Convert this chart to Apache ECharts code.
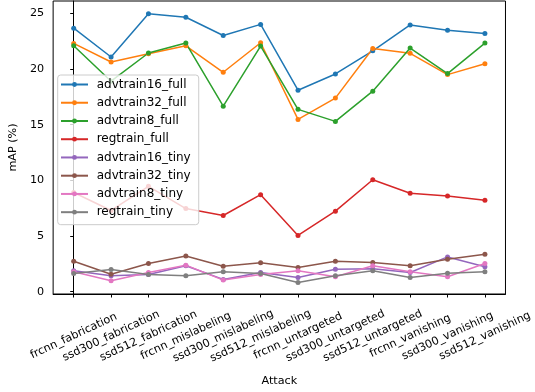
<!DOCTYPE html>
<html>
<head>
<meta charset="utf-8">
<script src="https://cdn.jsdelivr.net/npm/echarts@6/dist/echarts.min.js"></script>
<style>
  html, body { margin: 0; padding: 0; background: #fff; }
  #chart { width: 535px; height: 392px; }
</style>
</head>
<body>
<div id="chart"></div>
<script>
// Attack scenarios along the x axis
const attacks = [
  'frcnn_fabrication', 'ssd300_fabrication', 'ssd512_fabrication',
  'frcnn_mislabeling', 'ssd300_mislabeling', 'ssd512_mislabeling',
  'frcnn_untargeted', 'ssd300_untargeted', 'ssd512_untargeted',
  'frcnn_vanishing', 'ssd300_vanishing', 'ssd512_vanishing'
];

// mAP (%) per training setup
const advtrain16_full = [23.66, 21.07, 24.96, 24.64, 23.0, 24.0, 18.09, 19.55, 21.63, 23.95, 23.48, 23.18];
const advtrain32_full = [22.29, 20.62, 21.37, 22.08, 19.7, 22.35, 15.47, 17.38, 21.84, 21.4, 19.49, 20.47];
const advtrain8_full  = [22.08, 18.9, 21.43, 22.32, 16.66, 22.05, 16.37, 15.29, 18.0, 21.87, 19.58, 22.32];
const regtrain_full   = [8.9, 7.29, 9.46, 7.46, 6.84, 8.71, 5.05, 7.23, 10.05, 8.84, 8.6, 8.21];
const advtrain16_tiny = [1.87, 1.43, 1.54, 2.32, 1.1, 1.72, 1.28, 2.02, 2.05, 1.72, 3.12, 2.23];
const advtrain32_tiny = [2.73, 1.57, 2.53, 3.21, 2.29, 2.59, 2.17, 2.73, 2.62, 2.32, 2.91, 3.36];
const advtrain8_tiny  = [1.78, 0.98, 1.72, 2.38, 1.04, 1.54, 1.87, 1.34, 2.32, 1.78, 1.34, 2.53];
const regtrain_tiny   = [1.63, 1.99, 1.54, 1.43, 1.78, 1.63, 0.83, 1.43, 1.87, 1.28, 1.66, 1.78];

const yTicks = [0, 5, 10, 15, 20, 25];

const seriesDefs = [
  ['advtrain16_full', advtrain16_full, '#1f77b4'],
  ['advtrain32_full', advtrain32_full, '#ff7f0e'],
  ['advtrain8_full',  advtrain8_full,  '#2ca02c'],
  ['regtrain_full',   regtrain_full,   '#d62728'],
  ['advtrain16_tiny', advtrain16_tiny, '#9467bd'],
  ['advtrain32_tiny', advtrain32_tiny, '#8c564b'],
  ['advtrain8_tiny',  advtrain8_tiny,  '#e377c2'],
  ['regtrain_tiny',   regtrain_tiny,   '#7f7f7f']
];

const font = 'DejaVu Sans';
const fs = 11.2;
const chart = echarts.init(document.getElementById('chart'), null, { renderer: 'canvas' });

chart.setOption({
  animation: false,
  backgroundColor: '#fff',
  textStyle: { fontFamily: font },
  grid: {
    left: 51, right: 26.5, top: 1, bottom: 96.3,
    show: true, borderColor: '#000', borderWidth: 1, backgroundColor: 'transparent'
  },
  legend: {
    orient: 'vertical',
    left: 57.7, top: 75,
    padding: [3, 8, 6, 2.3],
    itemWidth: 27, itemHeight: 6, itemGap: 5.24,
    backgroundColor: 'rgba(255,255,255,0.8)',
    borderColor: '#cccccc', borderWidth: 1, borderRadius: 3,
    textStyle: { fontFamily: font, fontSize: 12, color: '#000', lineHeight: 13, padding: [0, 0, 0, 3.7] },
    data: seriesDefs.map(d => d[0])
  },
  xAxis: {
    type: 'value',
    min: -0.55, max: attacks.length - 1 + 0.55,
    name: 'Attack', nameLocation: 'middle', nameGap: 82,
    nameTextStyle: { fontFamily: font, fontSize: fs, color: '#000' },
    axisLine: { show: true, onZero: false, lineStyle: { color: '#000', width: 1 } },
    axisTick: { show: true, length: 3.5, lineStyle: { color: '#000' }, customValues: attacks.map((_, i) => i) },
    axisLabel: {
      customValues: attacks.map((_, i) => i),
      formatter: v => attacks[Math.round(v)],
      rotate: 25, align: 'center', verticalAlign: 'middle', margin: 42,
      fontFamily: font, fontSize: fs, color: '#000'
    },
    splitLine: { show: false }
  },
  yAxis: {
    type: 'value',
    min: -0.21, max: 26.1,
    name: 'mAP (%)', nameLocation: 'middle', nameGap: 34, nameRotate: 90,
    nameTextStyle: { fontFamily: font, fontSize: fs, color: '#000' },
    axisLine: { show: true, lineStyle: { color: '#000', width: 1 } },
    axisTick: { show: true, length: 3.5, lineStyle: { color: '#000' }, customValues: yTicks },
    axisLabel: { customValues: yTicks, fontFamily: font, fontSize: fs, color: '#000', margin: 9 },
    splitLine: { show: false }
  },
  series: seriesDefs.map(([name, vals, color]) => ({
    name, type: 'line',
    data: vals.map((v, i) => [i, v]),
    color,
    symbol: 'circle', symbolSize: 5, showSymbol: true,
    lineStyle: { width: 1.5, color },
    itemStyle: { color },
    emphasis: { disabled: true }
  }))
});
</script>
</body>
</html>
